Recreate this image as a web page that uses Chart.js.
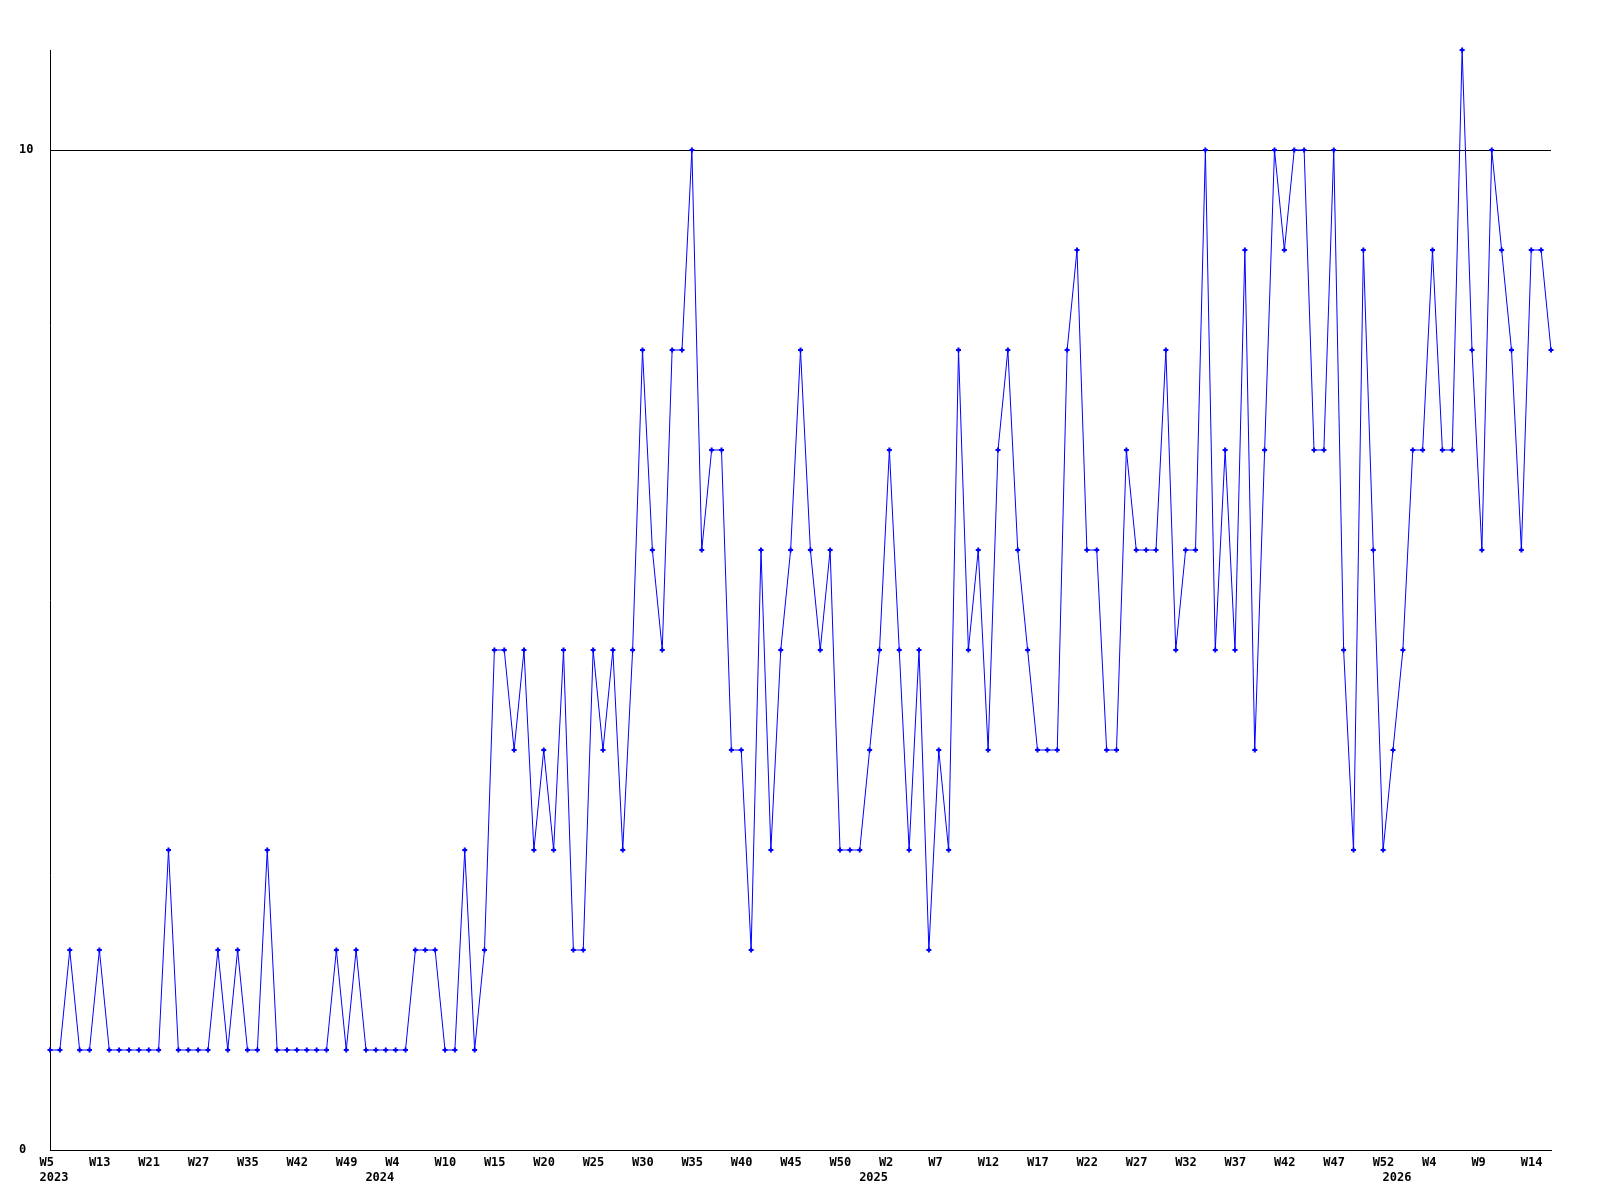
<!DOCTYPE html>
<html>
<head>
<meta charset="utf-8">
<script src="https://cdn.jsdelivr.net/npm/chart.js@4.4.1/dist/chart.umd.min.js"></script>
<style>
  html, body { margin: 0; padding: 0; background: #ffffff; }
  #wrap { width: 1600px; height: 1200px; }
</style>
</head>
<body>
<div id="wrap"><canvas id="c" width="1600" height="1200"></canvas></div>
<script>
// Weekly counts, one point per listed week
const values = [
  1,1,2,1,1,2,1,1,1,1,
  1,1,3,1,1,1,1,2,1,2,
  1,1,3,1,1,1,1,1,1,2,
  1,2,1,1,1,1,1,2,2,2,
  1,1,3,1,2,5,5,4,5,3,
  4,3,5,2,2,5,4,5,3,5,
  8,6,5,8,8,10,6,7,7,4,
  4,2,6,3,5,6,8,6,5,6,
  3,3,3,4,5,7,5,3,5,2,
  4,3,8,5,6,4,7,8,6,5,
  4,4,4,8,9,6,6,4,4,7,
  6,6,6,8,5,6,6,10,5,7,
  5,9,4,7,10,9,10,10,7,7,
  10,5,3,9,6,3,4,5,7,7,
  9,7,7,11,8,6,10,9,8,6,
  9,9,8
];
// Week tick labels, shown at every 5th point
const weekTicks = ['W5','W13','W21','W27','W35','W42','W49',
  'W4','W10','W15','W20','W25','W30','W35','W40','W45','W50',
  'W2','W7','W12','W17','W22','W27','W32','W37','W42','W47','W52',
  'W4','W9','W14'];
const tickEvery = 5;
// Year labels and the point where each year begins
const yearTicks = ['2023','2024','2025','2026'];
const yearStartPoint = [0, 33, 83, 136];
// Y axis
const yMin = 0, yMax = 11, yTickStep = 10;

const weekCats = values.map((v, i) => (i % tickEvery === 0 ? (weekTicks[i / tickEvery] || '') : ''));
const yearCats = values.map((v, i) => {
  const k = yearStartPoint.indexOf(i);
  return k >= 0 ? yearTicks[k] : '';
});

const FONT = { family: 'DejaVu Sans Mono', size: 12, weight: 'bold' };

new Chart(document.getElementById('c'), {
  type: 'line',
  data: {
    labels: weekCats,
    datasets: [{
      data: values,
      borderColor: '#0000ff',
      backgroundColor: '#0000ff',
      borderWidth: 1,
      tension: 0,
      fill: false,
      pointStyle: 'cross',
      pointRadius: 2.5,
      pointBorderWidth: 2,
      pointBorderColor: '#0000ff',
      pointBackgroundColor: '#0000ff',
      clip: false,
      xAxisID: 'x',
      yAxisID: 'y'
    }]
  },
  options: {
    responsive: false,
    animation: false,
    events: [],
    layout: { padding: { left: 19, right: 49, top: 50, bottom: 0 } },
    plugins: { legend: { display: false }, tooltip: { enabled: false }, title: { display: false } },
    scales: {
      x: {
        type: 'category',
        position: 'bottom',
        offset: false,
        grid: { display: false, drawTicks: false },
        border: { display: true, color: '#000000', width: 1 },
        ticks: {
          autoSkip: false, maxRotation: 0, minRotation: 0,
          align: 'start', labelOffset: -10.5, padding: 6,
          color: '#000000', font: FONT
        },
        afterFit: s => { s.height = 18; }
      },
      x2: {
        type: 'category',
        labels: yearCats,
        position: 'bottom',
        offset: false,
        grid: { display: false, drawTicks: false },
        border: { display: false },
        ticks: {
          autoSkip: false, maxRotation: 0, minRotation: 0,
          align: 'start', labelOffset: -10.5, padding: 3,
          color: '#000000', font: FONT
        },
        afterFit: s => { s.height = 32; }
      },
      y: {
        type: 'linear',
        min: yMin, max: yMax,
        grid: { display: true, color: '#000000', lineWidth: 1, drawTicks: false },
        border: { display: true, color: '#000000', width: 1 },
        ticks: {
          stepSize: yTickStep, includeBounds: false,
          crossAlign: 'far', padding: 0,
          color: '#000000', font: FONT
        },
        afterFit: s => { s.width = 31; }
      }
    }
  }
});
</script>
</body>
</html>
